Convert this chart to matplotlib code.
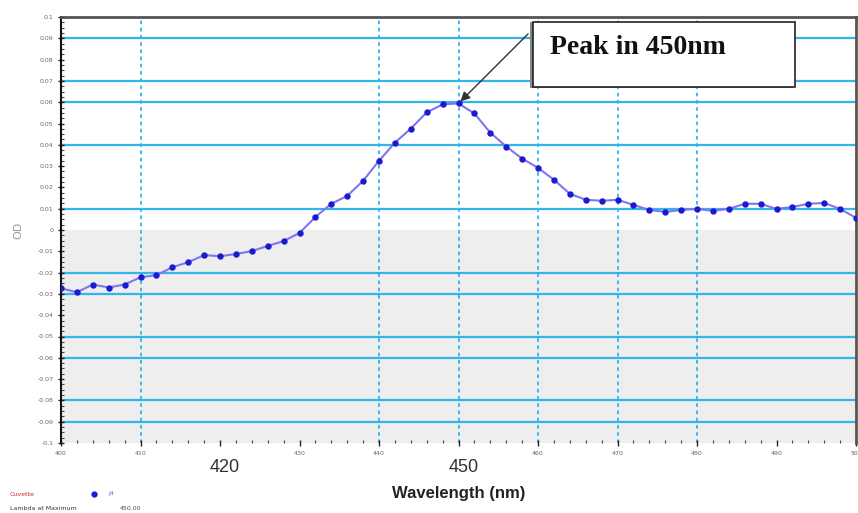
import matplotlib
matplotlib.use('Agg')
import matplotlib.pyplot as plt
from matplotlib.patches import Rectangle
from matplotlib.ticker import MultipleLocator, FuncFormatter

# absorbance readings every 2 nm
wavelength = list(range(400, 501, 2))
od = [-0.0274, -0.0292, -0.0256, -0.0270, -0.0256, -0.0222, -0.0212, -0.0175, -0.0151,
      -0.0118, -0.0123, -0.0113, -0.0099, -0.0075, -0.0052, -0.0014, 0.0061, 0.0123,
      0.0160, 0.0231, 0.0325, 0.0410, 0.0476, 0.0552, 0.0590, 0.0594, 0.0547, 0.0457,
      0.0392, 0.0335, 0.0292, 0.0236, 0.0170, 0.0142, 0.0137, 0.0142, 0.0118, 0.0094,
      0.0085, 0.0094, 0.0099, 0.0090, 0.0099, 0.0123, 0.0123, 0.0099, 0.0108, 0.0123,
      0.0127, 0.0099, 0.0057]

hgrid = [0.09, 0.07, 0.06, 0.04, 0.01, -0.02, -0.03, -0.05, -0.06, -0.08, -0.09]
vgrid = [410, 440, 450, 460, 470, 480]
big_labels = [420, 450]
peak_nm = 450
peak_od = 0.0594

fig = plt.figure(figsize=(8.58, 5.13), dpi=100)
ax = fig.add_axes([61/858, 70/513, 795/858, 426/513])

ax.set_xlim(400, 500)
ax.set_ylim(-0.1, 0.1)

# grey band under zero
ax.axhspan(-0.1, 0, color='#eeeeee', zorder=0)
for y in hgrid:
    ax.axhline(y, color='#33b5ea', lw=1.6, zorder=1)
for x in vgrid:
    ax.axvline(x, color='#33b5ea', lw=1.3, ls=(0, (2, 2)), zorder=1)

ax.plot(wavelength, od, color='#7f74f2', lw=1.5, marker='o', ms=3.6,
        mfc='#1a1ad0', mec='#1a1ad0', zorder=3)

ax.xaxis.set_major_locator(MultipleLocator(10))
ax.xaxis.set_minor_locator(MultipleLocator(2))
ax.yaxis.set_major_locator(MultipleLocator(0.01))
ax.yaxis.set_minor_locator(MultipleLocator(0.0025))
ax.xaxis.set_major_formatter(FuncFormatter(lambda v, p: '' if int(round(v)) in big_labels else '%d' % v))
ax.yaxis.set_major_formatter(FuncFormatter(lambda v, p: '0' if abs(v) < 1e-9 else ('%.2f' % v).rstrip('0')))
ax.tick_params(axis='both', which='major', labelsize=4.5, labelcolor='#6b6b4a', length=4, width=1,
               direction='inout', color='#222222')
ax.tick_params(axis='both', which='minor', length=2, width=0.8, direction='in', color='#444444')

for s in ['top', 'right']:
    ax.spines[s].set_color('#555555')
    ax.spines[s].set_linewidth(2)
ax.spines['left'].set_color('#111111')
ax.spines['left'].set_linewidth(1.5)
ax.spines['bottom'].set_visible(False)

ax.set_ylabel('OD', fontsize=8, color='#999999', labelpad=10)
ax.set_xlabel('Wavelength (nm)', fontsize=12, fontweight='bold', color='#222222',
              family='Liberation Sans', labelpad=22)

# large labels replacing the tiny ones at 420 and 450
for nm in big_labels:
    ax.text(nm + 0.6, -0.1075, str(nm), fontsize=13, color='#333333', ha='center', va='top',
            family='Liberation Sans')

# callout box with shadow
fig.patches.append(Rectangle((530/858, 1 - 88/513), 263/858, 66/513, transform=fig.transFigure,
                             facecolor='#888888', edgecolor='none', zorder=9))
fig.patches.append(Rectangle((533/858, 1 - 87/513), 262/858, 65/513, transform=fig.transFigure,
                             facecolor='white', edgecolor='#222222', lw=1.2, zorder=10))
fig.text(550/858, 1 - 48/513, 'Peak in 450nm', fontsize=20, fontweight='bold',
         family='Liberation Serif', color='#111111', va='center', ha='left', zorder=11)
ax.annotate('', xy=(peak_nm, peak_od), xytext=(530/858, 1 - 32/513), textcoords='figure fraction',
            arrowprops=dict(arrowstyle='-|>', color='#333333', lw=1, mutation_scale=14), zorder=5)

# legend-like footer
fig.text(10/858, 1 - 494/513, 'Cuvette', fontsize=4.5, color='#cc2222', va='center')
fig.text(108/858, 1 - 494/513, 'J4', fontsize=4.5, color='#6666ee', va='center')
fig.lines.append(plt.Line2D([94/858], [1 - 494/513], marker='o', ms=3.5, color='#1a1ad0',
                            transform=fig.transFigure))
fig.text(10/858, 1 - 508/513, 'Lambda at Maximum', fontsize=4.5, color='#333333', va='center')
fig.text(120/858, 1 - 508/513, '450.00', fontsize=4.5, color='#555533', va='center')

fig.savefig('out.png', dpi=100)
